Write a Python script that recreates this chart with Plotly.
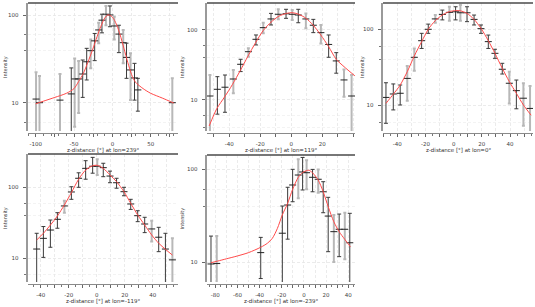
import plotly.graph_objects as go

W, H = 535, 307

# ---------------- data ----------------
# panel 1 : lon=239°
p1_x = [-99.5, -95, -68.3, -53.6, -49.2, -44, -38.7, -33.5, -28.3, -23.1, -17.9, -13.6, -8.4, -3.2, 2.4, 8.5, 14.1, 18.4, 23.6, 28.8, 33.2, 78.1]
p1_y = [11.0, 10.0, 10.7, 12.6, 18.7, 18.7, 21.3, 29.4, 39.4, 51, 68, 88, 103, 101, 75.5, 61, 48.6, 33, 23.7, 19.2, 14.0, 10.0]
p1_lo = [1, 1, 1, 1, 5.3, 7.6, 11.5, 18.2, 24.8, 30.3, 47.9, 63, 77, 74, 53, 37.4, 28.2, 19, 10.7, 10.7, 8.0, 1]
p1_hi = [22.3, 20.2, 21.3, 25, 32, 30, 30.8, 41.9, 53, 62, 82, 103, 128, 128, 96, 77, 68, 48, 36.7, 28.2, 19.0, 19.1]
p1_src = [1, 1, 1, 0, 1, 1, 0, 0, 1, 0, 1, 0, 1, 0, 1, 0, 1, 0, 1, 0, 0, 1]
p1_cx = [-100, -90, -75, -60, -50, -44, -38, -32, -26, -20, -15, -10, -6, -2, 2, 6, 10, 15, 20, 25, 30, 40, 50, 65, 80]
p1_cy = [9.7, 10.4, 11.5, 12.8, 14.5, 17.5, 21.5, 29, 40, 57, 75, 93, 101, 99, 90, 76, 60, 42, 29, 21, 17.2, 14.5, 12.8, 11.3, 9.9]
p1_label = "z-distance [°] at lon=239°"
p1_ticks = [-100, -75, -50, -25, 0, 25, 50, 75]
p1_ticktext = ["-100", "", "-50", "", "0", "", "50", ""]

# panel 2 : lon=119°
p2_x = [-52.5, -47.7, -42.8, -37.4, -32.7, -27.7, -22.8, -18.1, -13.1, -8.4, -3.4, 0.6, 4.5, 9.4, 14.2, 19.1, 24.1, 29.0, 34.0, 38.9]
p2_y = [11.3, 14.1, 15.1, 19.8, 32.2, 48.8, 73.5, 108, 144, 168, 171, 168, 164, 144, 117, 91.6, 62, 36, 19.2, 11.3]
p2_lo = [1, 6.2, 6.6, 12.4, 25.3, 41.4, 61, 89.6, 118, 142, 147, 139, 127, 106, 91.6, 64, 40.6, 24, 11.0, 1]
p2_hi = [22.6, 21.4, 22.6, 26.7, 38, 54.6, 84.8, 127, 173, 198, 198, 194, 198, 173, 142, 118, 84.8, 47.3, 27.2, 22.6]
p2_src = [1, 0, 0, 1, 0, 1, 0, 1, 0, 1, 0, 1, 0, 1, 0, 1, 0, 0, 1, 1]
p2_cx = [-53, -48, -43, -38, -33, -28, -23, -18, -13, -8, -3, 0.5, 4.5, 9.5, 14, 19, 24, 29, 34, 41]
p2_cy = [4.2, 7.5, 11.0, 16.5, 26, 42, 66, 99, 130, 158, 173, 177, 169, 147, 118, 85, 58, 38, 29.8, 22]
p2_label = "z-distance [°] at lon=119°"
p2_ticks = [-50, -40, -30, -20, -10, 0, 10, 20, 30, 40]
p2_ticktext = ["", "-40", "", "-20", "", "0", "", "20", "", ""]

# panel 3 : lon=0°
p3_x = [-48, -42.8, -37.9, -32.9, -27.9, -22.7, -18.0, -13.0, -8.0, -3.0, 1.4, 4.8, 9.5, 14.5, 19.4, 24.6, 29.3, 34.5, 39.5, 44.5, 49.5, 54.2]
p3_y = [12.7, 14.1, 14.4, 22.6, 42.8, 70.8, 100, 137, 157, 167, 170, 165, 165, 135, 102, 68.8, 48.3, 29.8, 19.5, 15.6, 12.4, 9.1]
p3_lo = [5.8, 8.7, 10.1, 11.5, 28.5, 56, 88.5, 122, 133, 130, 133, 130, 126, 114, 88.5, 56, 41.5, 25.8, 10.6, 9.0, 5.4, 1]
p3_hi = [19.8, 19.1, 18.5, 33, 56, 88.5, 117, 154, 179, 198, 198, 209, 198, 154, 114, 84, 54.6, 35.7, 27.7, 21.5, 19.5, 17.9]
p3_src = [0, 0, 0, 1, 1, 0, 0, 1, 0, 1, 0, 1, 0, 0, 0, 0, 0, 0, 1, 0, 1, 1]
p3_cx = [-48, -42.8, -37.9, -32.9, -27.9, -22.7, -18.0, -13.0, -8.0, -3.0, 1.4, 4.8, 9.5, 14.5, 19.4, 24.6, 29.3, 34.5, 39.5, 44.5, 49.5, 55]
p3_cy = [10.6, 14.0, 18.5, 27.7, 44.6, 68.7, 100, 130, 154, 171, 176, 175, 162, 135, 103, 70.8, 48.3, 30.7, 20.5, 14.4, 10.1, 7.4]
p3_label = "z-distance [°] at lon=0°"
p3_ticks = [-50, -40, -30, -20, -10, 0, 10, 20, 30, 40, 50]
p3_ticktext = ["", "-40", "", "-20", "", "0", "", "20", "", "40", ""]

# panel 4 : lon=-119°
p4_x = [-42.9, -38.1, -33.1, -28.1, -23.1, -18.1, -12.9, -7.9, -2.9, 0.4, 4.7, 9.5, 14.2, 19.5, 24.3, 29.3, 34.3, 39.3, 44.3, 49.1, 54.1]
p4_y = [13.5, 19.1, 25, 35.4, 54.6, 85.9, 134, 185, 198, 198, 189, 144, 116, 86.7, 58.2, 39.8, 30.4, 25.9, 19.8, 13.5, 9.5]
p4_lo = [1, 10.3, 14.3, 26.5, 43.9, 67.7, 100, 130, 158, 149, 141, 116, 97, 76, 48.8, 32.8, 23, 17.2, 12.4, 1, 1]
p4_hi = [22.5, 28, 34.6, 43.9, 64.6, 101.9, 160, 237, 264, 248, 218, 169, 134, 100, 67.7, 46.8, 37.8, 33.8, 27.3, 22.5, 19.1]
p4_src = [0, 0, 0, 0, 1, 0, 0, 0, 0, 1, 0, 0, 0, 0, 0, 0, 0, 1, 0, 0, 1]
p4_cx = [-42.9, -38.1, -33.1, -28.1, -23.1, -18.1, -12.9, -7.9, -2.9, 0.4, 4.7, 9.5, 14.2, 19.5, 24.3, 29.3, 34.3, 39.3, 44.3, 49.1, 54.1]
p4_cy = [18.1, 22.5, 29.4, 39.4, 56.4, 84, 130, 175, 201, 204, 185, 149, 120, 86.7, 59.6, 40.7, 29.4, 21.3, 16.3, 13.4, 11.1]
p4_label = "z-distance [°] at lon=-119°"
p4_ticks = [-40, -30, -20, -10, 0, 10, 20, 30, 40, 50]
p4_ticktext = ["-40", "", "-20", "", "0", "", "20", "", "40", ""]

# panel 5 : lon=-239°
p5_x = [-83.9, -78.7, -39.0, -19.5, -14.7, -10.2, -5.1, -1.2, 2.4, 7.8, 12.9, 17.4, 21.9, 27.0, 31.8, 36.9, 41.4]
p5_y = [9.6, 9.7, 12.7, 20.5, 41.1, 67.4, 86.2, 92.9, 91.2, 81.5, 77.6, 57, 31.3, 21.3, 22.6, 22.6, 16.2]
p5_lo = [1, 1, 6.7, 1, 17.7, 44.6, 48.5, 59.6, 60.6, 57, 55.8, 34, 13.0, 10.1, 11.5, 10.8, 1]
p5_hi = [19.1, 19.1, 18.5, 40.1, 63.7, 99.2, 127, 133, 124, 99, 99, 73.1, 49.7, 32.1, 32.9, 34, 33.5]
p5_src = [0, 1, 0, 0, 0, 0, 1, 0, 1, 0, 1, 0, 0, 1, 0, 1, 0]
p5_cx = [-84, -78, -70, -60, -50, -39, -33, -28.5, -24, -19.5, -14.7, -10.2, -5.1, -1, 2.4, 4.5, 7.8, 12.9, 17.4, 21.9, 27, 31.8, 36.9, 42]
p5_cy = [9.9, 10.3, 10.9, 11.7, 12.7, 14.5, 16.0, 18.1, 23, 32.2, 42.9, 60.6, 81.5, 92, 96, 97, 91, 76, 57, 39.5, 27.2, 21.3, 17.6, 14.7]
p5_label = "z-distance [°] at lon=-239°"
p5_ticks = [-80, -70, -60, -50, -40, -30, -20, -10, 0, 10, 20, 30, 40]
p5_ticktext = ["-80", "", "-60", "", "-40", "", "-20", "", "0", "", "20", "", "40"]

y_label = "Intensity"
y_major = [10, 100]
y_minor = [4, 6, 40, 60, 400]

# ---------------- layout (pixel boxes) ----------------
boxes = [(28, 178, 3, 131), (207, 355, 3, 131), (383, 533, 3, 131),
         (28, 178, 154, 282), (207, 355, 155, 282)]
xranges = [(-110, 85.5), (-54.4, 41.1), (-50.1, 56.3), (-49.1, 58.1), (-87.5, 46.1)]
yranges = [(0.676, 2.141), (0.551, 2.387), (0.662, 2.346), (0.666, 2.469), (0.789, 2.150)]
xminor = [10, 10, 5, 5, 5]
ytitle_x = [5, 182, 362, 5, 182]

panels = [
    (p1_x, p1_y, p1_lo, p1_hi, p1_src, p1_cx, p1_cy, p1_label, p1_ticks, p1_ticktext),
    (p2_x, p2_y, p2_lo, p2_hi, p2_src, p2_cx, p2_cy, p2_label, p2_ticks, p2_ticktext),
    (p3_x, p3_y, p3_lo, p3_hi, p3_src, p3_cx, p3_cy, p3_label, p3_ticks, p3_ticktext),
    (p4_x, p4_y, p4_lo, p4_hi, p4_src, p4_cx, p4_cy, p4_label, p4_ticks, p4_ticktext),
    (p5_x, p5_y, p5_lo, p5_hi, p5_src, p5_cx, p5_cy, p5_label, p5_ticks, p5_ticktext),
]

FONT = "DejaVu Sans"
GRID = "#e6e6e6"
GRID_MINOR = "#f0f0f0"
DASH = "3px,2px"
fig = go.Figure()
annotations = []
shapes = []
layout = {}

for i, (xs, ys, lo, hi, src, cx, cy, label, tv, tt) in enumerate(panels):
    n = i + 1
    xa = "x" if n == 1 else f"x{n}"
    ya = "y" if n == 1 else f"y{n}"
    l, r, t, b = boxes[i]

    for grp, col, thick, cap in [(1, "#b8b8b8", 2, 1.5), (0, "#3a3a3a", 1, 2)]:
        idx = [k for k in range(len(xs)) if src[k] == grp]
        gx = [xs[k] for k in idx]
        gy = [ys[k] for k in idx]
        ep = [hi[k] - ys[k] for k in idx]
        em = [ys[k] - lo[k] for k in idx]
        fig.add_trace(go.Scatter(
            x=gx, y=gy, mode="markers", xaxis=xa, yaxis=ya, showlegend=False,
            marker=dict(symbol="line-ew", size=5, color="#222",
                        line=dict(color="#222", width=1)),
            error_y=dict(type="data", symmetric=False, array=ep, arrayminus=em,
                         color=col, thickness=thick, width=cap),
        ))
    fig.add_trace(go.Scatter(
        x=cx, y=cy, mode="lines", xaxis=xa, yaxis=ya, showlegend=False,
        line=dict(color="#ff4a4a", width=1, shape="spline", smoothing=0.8),
    ))

    xkey = "xaxis" if n == 1 else f"xaxis{n}"
    ykey = "yaxis" if n == 1 else f"yaxis{n}"
    layout[xkey] = dict(
        domain=[l / W, r / W], range=list(xranges[i]),
        anchor="free", position=1 - (b + 2) / H, automargin=False,
        showline=True, linecolor="#8a8a8a", linewidth=1,
        ticks="outside", ticklen=3, tickwidth=1, tickcolor="#666",
        tickmode="array", tickvals=tv, ticktext=tt,
        tickfont=dict(family=FONT, size=5.5, color="#444"),
        ticklabelstandoff=2,
        showgrid=True, gridcolor=GRID, griddash=DASH, gridwidth=0.8,
        zeroline=False,
        minor=dict(dtick=xminor[i], tick0=0, ticks="outside", ticklen=2,
                   tickcolor="#777", showgrid=False),
    )
    layout[ykey] = dict(
        domain=[1 - b / H, 1 - t / H], type="log", range=list(yranges[i]),
        anchor="free", position=(l - 1.5) / W, automargin=False,
        showline=True, linecolor="#9a9a9a", linewidth=2,
        ticks="outside", ticklen=3, tickwidth=1, tickcolor="#666",
        tickmode="array", tickvals=y_major, ticktext=[str(v) for v in y_major],
        tickfont=dict(family=FONT, size=5.5, color="#444"),
        ticklabelstandoff=3,
        showgrid=True, gridcolor=GRID, griddash=DASH, gridwidth=0.8,
        zeroline=False,
        minor=dict(tickmode="array", tickvals=y_minor, ticks="outside", ticklen=2,
                   tickcolor="#777", showgrid=True, gridcolor=GRID_MINOR,
                   griddash=DASH, gridwidth=0.8),
    )
    # top frame line
    shapes.append(dict(type="line", xref=f"{xa} domain", yref=f"{ya} domain",
                       x0=0, x1=1, y0=1, y1=1,
                       line=dict(color="#4a4a4a", width=1.5)))
    # axis titles
    annotations.append(dict(text=label, xref="paper", yref="paper",
                            x=(l + r) / 2 / W, y=1 - (b + 19) / H,
                            xanchor="center", yanchor="middle", showarrow=False,
                            font=dict(family=FONT, size=5.5, color="#333")))
    annotations.append(dict(text=y_label, xref="paper", yref="paper",
                            x=ytitle_x[i] / W, y=1 - (t + b) / 2 / H,
                            xanchor="center", yanchor="middle", showarrow=False,
                            textangle=-90,
                            font=dict(family=FONT, size=5, color="#333")))

fig.update_layout(
    width=W, height=H, margin=dict(l=0, r=0, t=0, b=0, pad=0, autoexpand=False),
    paper_bgcolor="white", plot_bgcolor="white",
    showlegend=False, annotations=annotations, shapes=shapes,
    **layout,
)

fig.write_html(
    "out.html",
    config={"displayModeBar": False, "staticPlot": True},
    post_script="document.body.style.margin='0';document.body.style.padding='0';",
)
